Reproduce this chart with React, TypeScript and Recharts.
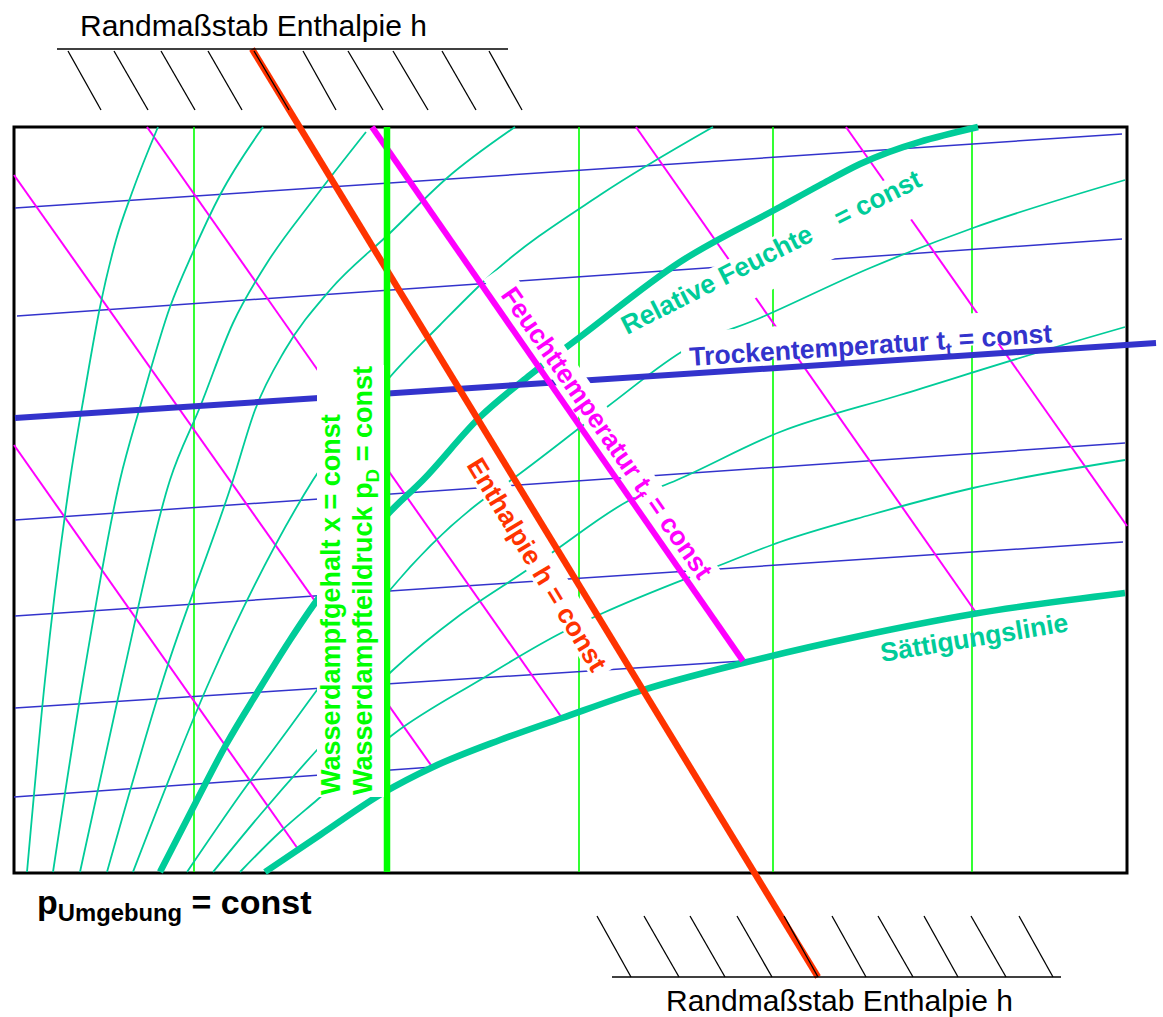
import React from 'react';
import { ComposedChart, Line, XAxis, YAxis, ReferenceDot } from 'recharts';

const W = 1163;
const H = 1017;
const FONT = '"Liberation Sans", Arial, Helvetica, sans-serif';

// sheet coordinates, y grows downwards (y axis reversed)
const frame = [[14, 127], [1127, 127], [1127, 873], [14, 873], [14, 127]];

// Wasserdampfgehalt x = const
const xConstThin = [194, 579, 773, 972];
const xConstBold = 387;
const xConstTop = 127;
const xConstBottom = 872;

// Trockentemperatur t_t = const  (start, end)
const dryThin = [
  [[15, 208], [1122, 134]],
  [[17, 316], [1122, 239]],
  [[15, 520], [1125, 443]],
  [[15, 616], [1123, 542]],
  [[15, 708], [743, 661]],
  [[14, 797], [433, 767]],
];
const dryBold = [[15, 418], [1156, 343]];

// Feuchttemperatur t_f = const
const wetThin = [
  [[14, 175], [433, 768]],
  [[14, 445], [298, 849]],
  [[147, 127], [562, 718]],
  [[636, 127], [977, 614]],
  [[846, 127], [1127, 526]],
];
const wetBold = [[372, 127], [743, 661]];

// relative Feuchte = const
const rhThin = [
  [[27, 872], [45, 680], [70, 480], [85, 390], [100, 307], [116, 240], [133, 190], [158, 127]],
  [[53, 872], [83, 680], [120, 480], [140, 407], [170, 307], [193, 252], [220, 195], [263, 127]],
  [[80, 872], [122, 680], [170, 480], [200, 407], [233, 323], [267, 263], [313, 200], [366, 132]],
  [[107, 872], [163, 680], [233, 480], [255, 410], [285, 350], [330, 290], [390, 233], [447, 178], [515, 127]],
  [[133, 872], [210, 680], [313, 480], [390, 377], [440, 325], [494, 272], [600, 195], [713, 127]],
  [[187, 872], [240, 795], [290, 727], [317, 690], [390, 590], [480, 502], [507, 483], [607, 407], [688, 348], [760, 318], [870, 268], [973, 228], [1125, 180]],
  [[213, 872], [260, 815], [317, 750], [393, 670], [460, 615], [527, 570], [553, 552], [630, 500], [677, 480], [780, 432], [900, 395], [1073, 342], [1125, 327]],
  [[240, 872], [280, 832], [317, 800], [395, 733], [480, 680], [563, 632], [603, 613], [713, 568], [780, 542], [870, 515], [973, 488], [1125, 460]],
];
const rhBold = [
  [160, 872], [197, 800], [227, 743], [257, 693], [290, 640], [315, 603], [350, 560], [387, 515],
  [423, 480], [480, 417], [530, 375], [580, 337], [680, 262], [780, 207], [820, 185], [860, 164], [978, 127],
];
const saturation = [
  [265, 872], [320, 835], [383, 793], [433, 767], [500, 740], [562, 718], [643, 690],
  [743, 663], [860, 636], [973, 614], [1125, 593],
];

// Enthalpie h = const
const enthalpy = [[252, 49], [818, 977]];

// Randmaßstab Enthalpie h (oben / unten)
const scaleTopLine = [[57, 49], [508, 49]];
const scaleTopUpperX = [68, 114, 161, 208, 254, 303, 348, 393, 442, 489];
const scaleTopLowerX = [101, 148, 195, 242, 289, 336, 383, 428, 476, 522];
const scaleTopY = [51, 110];
const scaleBottomLine = [[612, 977], [1061, 977]];
const scaleBottomUpperX = [597, 644, 690, 737, 784, 832, 878, 924, 971, 1019];
const scaleBottomLowerX = [631, 679, 725, 772, 818, 866, 913, 958, 1006, 1053];
const scaleBottomY = [916, 977];

const TEAL = '#00CC99';
const GREEN = '#00FF00';
const BLUE = '#3333CC';
const MAGENTA = '#FF00FF';
const RED = '#FF3300';

const toPts = (arr: number[][]) => arr.map(([x, y]) => ({ x, y }));

type Part = { t: string; sub?: boolean; dx?: number };
type Tag = {
  x: number;
  y: number;
  angle: number;
  color: string;
  size: number;
  bold?: boolean;
  parts: Part[];
  box?: [number, number, number, number];
  subDy?: number;
};

const LS = 26.5;

const tags: Tag[] = [
  { x: 80, y: 36, angle: 0, color: '#000', size: 30, parts: [{ t: 'Randmaßstab Enthalpie h' }] },
  { x: 666, y: 1011, angle: 0, color: '#000', size: 30, parts: [{ t: 'Randmaßstab Enthalpie h' }] },
  {
    x: 37, y: 914, angle: 0, color: '#000', size: 34, bold: true, subDy: 7,
    parts: [{ t: 'p' }, { t: 'Umgebung', sub: true }, { t: ' = const' }],
  },
  {
    x: 340, y: 795, angle: -90, color: GREEN, size: 27, bold: true, box: [-2, 430, -23, 10],
    parts: [{ t: 'Wasserdampfgehalt x = const' }],
  },
  {
    x: 372, y: 795, angle: -90, color: GREEN, size: 27, bold: true, box: [-2, 430, -22, 12],
    parts: [{ t: 'Wasserdampfteildruck p' }, { t: 'D', sub: true }, { t: ' = const' }],
  },
  {
    x: 466, y: 465, angle: 58.8, color: RED, size: LS, bold: true, box: [-4, 250, -28, 3],
    parts: [{ t: 'Enthalpie h = const' }],
  },
  {
    x: 500, y: 295, angle: 55.2, color: MAGENTA, size: LS, bold: true, box: [-22, 356, -24, 5],
    parts: [{ t: 'Feuchttemperatur t' }, { t: 'f', sub: true }, { t: ' = const' }],
  },
  {
    x: 690, y: 366, angle: -3.76, color: BLUE, size: LS, bold: true, box: [-8, 395, -34, -2],
    parts: [{ t: 'Trockentemperatur t' }, { t: 't', sub: true }, { t: ' = const' }],
  },
  {
    x: 627, y: 335, angle: -26.8, color: TEAL, size: LS, bold: true, box: [2, 345, -22, 25],
    parts: [{ t: 'Relative Feuchte' }, { t: '= const', dx: 28 }],
  },
  { x: 882, y: 662, angle: -9.4, color: TEAL, size: LS, bold: true, parts: [{ t: 'Sättigungslinie' }] },
];

function TagArt({ vb, tag }: { vb: any; tag: Tag }) {
  if (!vb) return null;
  const { angle, color, size, bold, parts, box } = tag;
  const subDy = tag.subDy ?? size * 0.25;
  let down = false;
  const spans = parts.map((p, i) => {
    let dy = 0;
    if (p.sub && !down) {
      dy = subDy;
      down = true;
    } else if (!p.sub && down) {
      dy = -subDy;
      down = false;
    }
    return (
      <tspan key={i} dy={dy || undefined} dx={p.dx} fontSize={p.sub ? size * 0.7 : size}>
        {p.t}
      </tspan>
    );
  });
  return (
    <g transform={`translate(${vb.x},${vb.y}) rotate(${angle})`}>
      {box && <rect x={box[0]} y={box[2]} width={box[1] - box[0]} height={box[3] - box[2]} fill="#fff" />}
      <text
        x={0}
        y={0}
        fill={color}
        fontFamily={FONT}
        fontWeight={bold ? 700 : 400}
        fontSize={size}
        style={{ whiteSpace: 'pre' }}
      >
        {spans}
      </text>
    </g>
  );
}

type Series = { key: string; pts: number[][]; color: string; width: number; curve?: boolean };

const series: Series[] = [
  { key: 'frame', pts: frame, color: '#000', width: 3 },
  ...xConstThin.map((x, i) => ({
    key: `xc${i}`,
    pts: [[x, xConstTop], [x, xConstBottom]],
    color: GREEN,
    width: 1.6,
  })),
  ...dryThin.map((p, i) => ({ key: `dry${i}`, pts: p, color: BLUE, width: 1.5 })),
  ...wetThin.map((p, i) => ({ key: `wet${i}`, pts: p, color: MAGENTA, width: 2 })),
  ...rhThin.map((p, i) => ({ key: `rh${i}`, pts: p, color: TEAL, width: 1.8, curve: true })),
  { key: 'rhBold', pts: rhBold, color: TEAL, width: 6.5, curve: true },
  { key: 'sat', pts: saturation, color: TEAL, width: 6.5, curve: true },
  { key: 'dryBold', pts: dryBold, color: BLUE, width: 6 },
  { key: 'wetBold', pts: wetBold, color: MAGENTA, width: 6 },
  { key: 'enth', pts: enthalpy, color: RED, width: 6.5 },
  { key: 'xcBold', pts: [[xConstBold, xConstTop], [xConstBold, xConstBottom]], color: GREEN, width: 6.5 },
  { key: 'scaleTop', pts: scaleTopLine, color: '#000', width: 1.5 },
  { key: 'scaleBottom', pts: scaleBottomLine, color: '#000', width: 1.5 },
  ...scaleTopUpperX.map((x, i) => ({
    key: `ht${i}`,
    pts: [[x, scaleTopY[0]], [scaleTopLowerX[i], scaleTopY[1]]],
    color: '#000',
    width: 1.3,
  })),
  ...scaleBottomUpperX.map((x, i) => ({
    key: `hb${i}`,
    pts: [[x, scaleBottomY[0]], [scaleBottomLowerX[i], scaleBottomY[1]]],
    color: '#000',
    width: 1.3,
  })),
];

export default function App() {
  return (
    <div style={{ position: 'absolute', left: 0, top: 0, width: W, height: H, background: '#fff' }}>
      <ComposedChart width={W} height={H} margin={{ top: 0, right: 0, bottom: 0, left: 0 }}>
        <XAxis type="number" dataKey="x" domain={[0, W]} hide allowDataOverflow />
        <YAxis type="number" dataKey="y" domain={[0, H]} reversed hide allowDataOverflow />
        {series.map((s) => (
          <Line
            key={s.key}
            data={toPts(s.pts)}
            dataKey="y"
            type={s.curve ? 'monotone' : 'linear'}
            stroke={s.color}
            strokeWidth={s.width}
            strokeLinecap={s.key === 'frame' ? 'square' : 'butt'}
            dot={false}
            activeDot={false}
            legendType="none"
            isAnimationActive={false}
          />
        ))}
        {tags.map((tag, i) => (
          <ReferenceDot
            key={`tag${i}`}
            x={tag.x}
            y={tag.y}
            r={0}
            fill="none"
            stroke="none"
            ifOverflow="visible"
            label={(p: any) => <TagArt vb={p.viewBox} tag={tag} />}
          />
        ))}
      </ComposedChart>
    </div>
  );
}
